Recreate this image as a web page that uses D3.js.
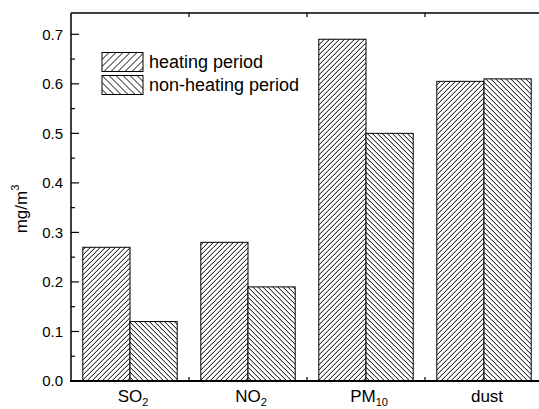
<!DOCTYPE html>
<html>
<head>
<meta charset="utf-8">
<script src="https://cdn.jsdelivr.net/npm/d3@7"></script>
<style>
  html, body { margin: 0; padding: 0; background: #fff; overflow: hidden; }
  svg { display: block; font-family: "Liberation Sans", Arial, sans-serif; }
</style>
</head>
<body>
<svg id="chart" width="539" height="409"></svg>
<script>
// ── Data ────────────────────────────────────────────────────────────────────
const categories = ["SO2", "NO2", "PM10", "dust"];
const catLabels  = [["SO", "2"], ["NO", "2"], ["PM", "10"], ["dust", ""]];
const series     = ["heating period", "non-heating period"];
const heating    = [0.27, 0.28, 0.69, 0.605];
const nonHeating = [0.12, 0.19, 0.50, 0.61];
const yTicks     = [0.0, 0.1, 0.2, 0.3, 0.4, 0.5, 0.6, 0.7];
const yMinor     = [0.05, 0.15, 0.25, 0.35, 0.45, 0.55, 0.65];

// ── Layout ──────────────────────────────────────────────────────────────────
// plot box runs a little past the right edge of the window, as in the reference
const L = 71, R = 543, T = 13, B = 381;
const svg = d3.select("#chart");

const x = d3.scaleBand().domain(categories).range([L, R])
  .paddingInner(0.2).paddingOuter(0.1);
const xs = d3.scaleBand().domain(series).range([0, x.bandwidth()]).padding(0);
const y = d3.scaleLinear().domain([0, 0.743]).range([B, T]);

// ── Hatch patterns (crisp 1px diagonals) ────────────────────────────────────
const defs = svg.append("defs");
function hatch(id, s, forward) {
  const p = defs.append("pattern").attr("id", id)
    .attr("patternUnits", "userSpaceOnUse")
    .attr("width", s).attr("height", s);
  p.append("rect").attr("width", s).attr("height", s).attr("fill", "#fff");
  const d = forward
    ? `M0,${s} L${s},0 M${-s / 2},${s / 2} L${s / 2},${-s / 2} M${s / 2},${s * 1.5} L${s * 1.5},${s / 2}`
    : `M0,0 L${s},${s} M${-s / 2},${s / 2} L${s / 2},${s * 1.5} M${s / 2},${-s / 2} L${s * 1.5},${s / 2}`;
  p.append("path").attr("d", d)
    .attr("stroke", "#000").attr("stroke-width", 1)
    .attr("shape-rendering", "crispEdges");
}
hatch("h-bar", 5, true);
hatch("n-bar", 5, false);
hatch("h-leg", 7, true);
hatch("n-leg", 7, false);

const barFill = ["url(#h-bar)", "url(#n-bar)"];
const legFill = ["url(#h-leg)", "url(#n-leg)"];

// ── Bars ────────────────────────────────────────────────────────────────────
const rows = categories.map((c, i) => ({ c, vals: [heating[i], nonHeating[i]] }));
svg.append("g").selectAll("g")
  .data(rows).join("g")
  .attr("transform", d => `translate(${x(d.c)},0)`)
  .selectAll("rect")
  .data(d => d.vals.map((v, j) => ({ s: series[j], v, j })))
  .join("rect")
  .attr("x", d => xs(d.s))
  .attr("width", xs.bandwidth())
  .attr("y", d => y(d.v))
  .attr("height", d => y(0) - y(d.v))
  .attr("fill", d => barFill[d.j])
  .attr("stroke", "#000").attr("stroke-width", 1);

// ── Frame ───────────────────────────────────────────────────────────────────
const frame = svg.append("g").attr("stroke", "#000").attr("fill", "none");
frame.append("line").attr("x1", L).attr("x2", R).attr("y1", T).attr("y2", T).attr("stroke-width", 1.5);
frame.append("line").attr("x1", L).attr("x2", L).attr("y1", T).attr("y2", B).attr("stroke-width", 1.5);
frame.append("line").attr("x1", R).attr("x2", R).attr("y1", T).attr("y2", B).attr("stroke-width", 1.5);
frame.append("line").attr("x1", L - 1).attr("x2", R).attr("y1", B).attr("y2", B).attr("stroke-width", 2.2);

// y ticks (inward)
const ga = svg.append("g").attr("stroke", "#000").attr("stroke-width", 1.2);
ga.selectAll(".maj").data(yTicks).join("line")
  .attr("x1", L).attr("x2", L + 8).attr("y1", d => y(d)).attr("y2", d => y(d));
ga.selectAll(".min").data(yMinor).join("line")
  .attr("x1", L).attr("x2", L + 4).attr("y1", d => y(d)).attr("y2", d => y(d));

// category boundary ticks on bottom and top
const bounds = categories.slice(1).map(c => x(c) - x.step() * x.paddingInner() / 2);
ga.selectAll(".bt").data(bounds).join("line")
  .attr("x1", d => d).attr("x2", d => d).attr("y1", B).attr("y2", B - 4);
ga.selectAll(".tt").data(bounds).join("line")
  .attr("x1", d => d).attr("x2", d => d).attr("y1", T).attr("y2", T + 4);

// y tick labels
svg.append("g").selectAll("text").data(yTicks).join("text")
  .attr("x", L - 8).attr("y", d => y(d)).attr("dy", "0.36em")
  .attr("text-anchor", "end").attr("font-size", 15)
  .text(d => d3.format(".1f")(d));

// x labels with subscripts
const xl = svg.append("g").selectAll("text").data(catLabels).join("text")
  .attr("x", (d, i) => x(categories[i]) + x.bandwidth() / 2 + 3)
  .attr("y", 402).attr("text-anchor", "middle").attr("font-size", 17);
xl.append("tspan").text(d => d[0]);
xl.append("tspan").attr("font-size", 11).attr("dy", 4).text(d => d[1]);

// y title
const yt = svg.append("text")
  .attr("transform", "translate(27,209) rotate(-90)")
  .attr("text-anchor", "middle").attr("font-size", 17);
yt.append("tspan").text("mg/m");
yt.append("tspan").attr("font-size", 11).attr("dy", -8).text("3");

// ── Legend ──────────────────────────────────────────────────────────────────
const leg = svg.append("g").selectAll("g").data(series).join("g")
  .attr("transform", (d, i) => `translate(102,${52.5 + i * 23})`);
leg.append("rect").attr("width", 41).attr("height", 19)
  .attr("fill", (d, i) => legFill[i]).attr("stroke", "#000").attr("stroke-width", 1);
leg.append("text").attr("x", 47).attr("y", 15.5).attr("font-size", 18).text(d => d);
</script>
</body>
</html>
